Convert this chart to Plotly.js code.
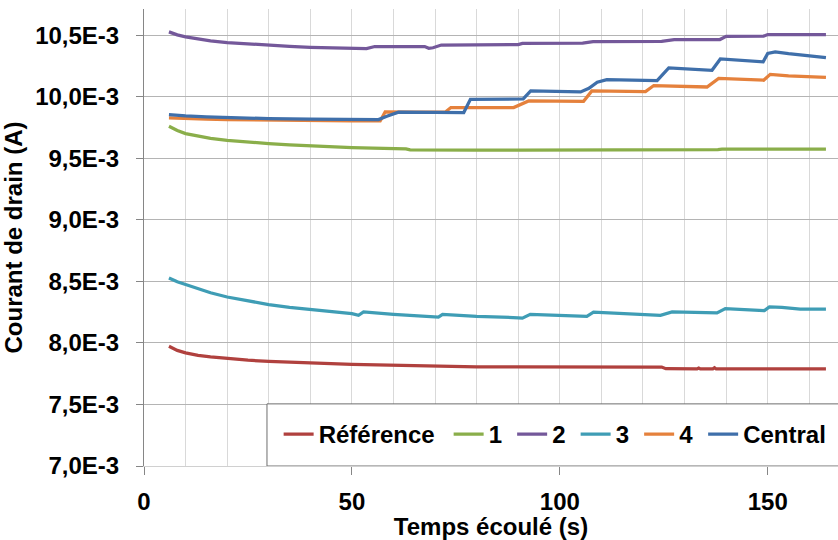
<!DOCTYPE html>
<html>
<head>
<meta charset="utf-8">
<script src="https://cdn.plot.ly/plotly-3.0.1.min.js"></script>
<style>
  html, body { margin: 0; padding: 0; background: #ffffff; }
  #chart { width: 838px; height: 540px; }
</style>
</head>
<body>
<div id="chart"></div>
<script>
// ---- Data (current values in units of 1E-3 A, time in s) ----
const seriesNames = ["Référence", "1", "2", "3", "4", "Central"];

const tRef = [6, 7, 8, 10, 13, 16, 20, 25, 30, 35, 40, 45, 50, 55, 60, 65, 70, 75, 80, 90, 100, 110, 120, 124.5, 125.5, 130, 133, 133.4, 133.8, 136.8, 137.2, 137.6, 145, 155, 164];
const iRef = [7.973, 7.955, 7.940, 7.920, 7.900, 7.888, 7.873, 7.860, 7.851, 7.843, 7.837, 7.832, 7.827, 7.823, 7.819, 7.815, 7.811, 7.808, 7.806, 7.805, 7.804, 7.804, 7.804, 7.804, 7.791, 7.790, 7.790, 7.797, 7.790, 7.790, 7.799, 7.789, 7.789, 7.789, 7.789];

const t1 = [6, 7, 8, 10, 13, 16, 20, 25, 30, 35, 40, 45, 50, 55, 60, 63, 64, 70, 80, 90, 100, 110, 120, 125, 126, 138, 139, 150, 164];
const i1 = [9.762, 9.745, 9.728, 9.702, 9.680, 9.664, 9.648, 9.633, 9.621, 9.611, 9.602, 9.595, 9.589, 9.584, 9.580, 9.578, 9.570, 9.568, 9.567, 9.568, 9.568, 9.568, 9.568, 9.568, 9.572, 9.572, 9.575, 9.575, 9.575];

const t2 = [6, 7, 8, 10, 13, 16, 20, 25, 30, 35, 40, 45, 50, 53.5, 55.5, 60, 67.5, 68.5, 69.5, 71.5, 80, 90, 91, 105.5, 108, 124.5, 127.5, 138.5, 140, 149, 150, 164];
const i2 = [10.529, 10.516, 10.505, 10.488, 10.470, 10.456, 10.442, 10.430, 10.420, 10.411, 10.404, 10.398, 10.394, 10.393, 10.410, 10.411, 10.410, 10.396, 10.400, 10.422, 10.425, 10.426, 10.436, 10.437, 10.450, 10.451, 10.466, 10.467, 10.493, 10.494, 10.507, 10.507];

const t3 = [6, 7, 8, 10, 13, 16, 20, 25, 30, 35, 40, 45, 50, 51.6, 52.8, 60, 70, 70.8, 71.8, 80, 90, 91, 92.9, 101.7, 106.5, 108.1, 116, 120, 124.2, 127, 137.8, 139.8, 147.4, 149.2, 150.4, 153.4, 157.8, 164];
const i3 = [8.528, 8.512, 8.497, 8.475, 8.440, 8.408, 8.374, 8.340, 8.312, 8.290, 8.272, 8.255, 8.239, 8.225, 8.252, 8.233, 8.211, 8.210, 8.233, 8.217, 8.205, 8.202, 8.233, 8.220, 8.217, 8.250, 8.239, 8.231, 8.225, 8.252, 8.244, 8.280, 8.268, 8.263, 8.293, 8.290, 8.276, 8.276];

const t4 = [6, 8, 10, 15, 20, 30, 40, 50, 56.8, 58, 65, 72.5, 73.8, 80, 88.9, 92.5, 100, 105.7, 107.7, 115, 120.6, 122.6, 130, 135.4, 138.2, 145, 149, 150.6, 155, 164];
const i4 = [9.829, 9.826, 9.824, 9.820, 9.816, 9.811, 9.808, 9.805, 9.805, 9.878, 9.876, 9.878, 9.914, 9.912, 9.914, 9.968, 9.966, 9.965, 10.049, 10.046, 10.044, 10.093, 10.088, 10.081, 10.150, 10.145, 10.136, 10.184, 10.172, 10.160];

const tC = [6, 8, 10, 15, 20, 30, 40, 50, 56.4, 58.4, 61.2, 70, 76.9, 78.5, 85, 91.2, 93, 100, 105, 107, 109, 111.3, 118, 123.4, 126.2, 130, 136.6, 138.6, 143, 148.9, 150, 151.8, 155, 160, 164];
const iC = [9.857, 9.851, 9.846, 9.838, 9.832, 9.824, 9.819, 9.816, 9.816, 9.843, 9.876, 9.875, 9.873, 9.981, 9.982, 9.984, 10.049, 10.047, 10.041, 10.070, 10.120, 10.141, 10.137, 10.133, 10.236, 10.228, 10.217, 10.309, 10.300, 10.285, 10.353, 10.366, 10.352, 10.335, 10.320];

const xTickVals = [0, 50, 100, 150];
const xTickText = ["0", "50", "100", "150"];
const yTickVals = [7.0, 7.5, 8.0, 8.5, 9.0, 9.5, 10.0, 10.5];
const yTickText = ["7,0E-3", "7,5E-3", "8,0E-3", "8,5E-3", "9,0E-3", "9,5E-3", "10,0E-3", "10,5E-3"];

// ---- Styles ----
const colors = ["#b0413e", "#8aae4a", "#74589a", "#3f9db5", "#e5813c", "#3f6faa"];
const legendWidths = [125, 18.5, 18.5, 18.5, 19, 85];
const xs = [tRef, t1, t2, t3, t4, tC];
const ys = [iRef, i1, i2, i3, i4, iC];

const FONT = 'Arial, "Liberation Sans", sans-serif';

const traces = seriesNames.map((name, k) => ({
  type: "scatter",
  mode: "lines",
  name: name,
  x: xs[k],
  y: ys[k],
  line: { color: colors[k], width: 3.25 },
  legendwidth: legendWidths[k],
  hoverinfo: "skip"
}));

const layout = {
  width: 838,
  height: 540,
  margin: { l: 144, r: 0, t: 9, b: 74, autoexpand: false },
  paper_bgcolor: "#ffffff",
  plot_bgcolor: "#ffffff",
  font: { family: FONT, size: 24, color: "#000000", weight: "bold" },
  showlegend: true,
  legend: {
    orientation: "h",
    x: 0.194,
    xanchor: "left",
    y: 0.069,
    yanchor: "middle",
    bgcolor: "rgba(0,0,0,0)",
    borderwidth: 0,
    font: { family: FONT, size: 24, color: "#000000", weight: "bold" },
    traceorder: "normal"
  },
  xaxis: {
    range: [0, 166.9],
    tickmode: "array",
    tickvals: xTickVals,
    ticktext: xTickText,
    ticks: "outside",
    ticklen: 8,
    tickcolor: "#868686",
    tickwidth: 1,
    ticklabelstandoff: 6,
    tickfont: { family: FONT, size: 24, color: "#000000", weight: "bold" },
    showgrid: true,
    gridcolor: "#d9d9d9",
    gridwidth: 1,
    minor: { dtick: 10, tick0: 0, showgrid: true, gridcolor: "#d9d9d9", gridwidth: 1, ticks: "" },
    showline: true,
    linecolor: "#d0d0d0",
    linewidth: 1,
    zeroline: false,
    title: { text: "Temps écoulé (s)", font: { family: FONT, size: 24, color: "#000000", weight: "bold" }, standoff: 4 }
  },
  yaxis: {
    range: [7.0, 10.715],
    tickmode: "array",
    tickvals: yTickVals,
    ticktext: yTickText,
    ticks: "outside",
    ticklen: 7,
    tickcolor: "#868686",
    tickwidth: 1,
    ticklabelstandoff: 12,
    tickfont: { family: FONT, size: 24, color: "#000000", weight: "bold" },
    showgrid: true,
    gridcolor: "#b4b4b4",
    gridwidth: 1,
    showline: true,
    linecolor: "#868686",
    linewidth: 1,
    zeroline: false,
    title: { text: "Courant de drain (A)", font: { family: FONT, size: 24, color: "#000000", weight: "bold" }, standoff: 7 }
  },
  shapes: [{
    type: "rect",
    xref: "paper", yref: "y",
    x0: 0.1772, x1: 1.02,
    y0: 7.0, y1: 7.505,
    fillcolor: "#ffffff",
    line: { color: "#6e6e6e", width: 1 },
    layer: "above"
  }]
};

Plotly.newPlot("chart", traces, layout, { displayModeBar: false, staticPlot: true });
</script>
</body>
</html>
